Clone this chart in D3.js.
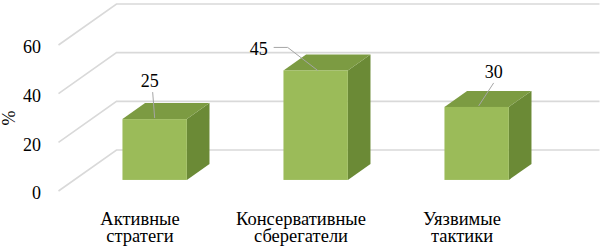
<!DOCTYPE html>
<html lang="ru">
<head>
<meta charset="utf-8">
<title>Стратегии</title>
<script src="https://d3js.org/d3.v7.min.js"></script>
<style>
  body { margin: 0; background: #fff; }
</style>
</head>
<body>
<script>
// Data
const categories = [["Активные", "стратеги"], ["Консервативные", "сберегатели"], ["Уязвимые", "тактики"]];
const values = [25, 45, 30];
const yTicks = [0, 20, 40, 60];

// Layout
const W = 603, H = 248;
const x0 = 58.5, x1 = 541.5;     // front floor edge
const depthX = 58, depthY = -41; // projection of full depth
const zFront = 0.27, zBack = 0.66;
const fontSize = 18;
const catSize = 18.5;
const serif = "'Liberation Serif', 'Times New Roman', 'DejaVu Serif', serif";

const colFront = "#9bbb59", colTop = "#7c9b42", colSide = "#6b8a36";
const gridCol = "#d9d9d9", leaderCol = "#a6a6a6";

// label offsets from bar anchor (dragged labels)
const labelShift = [[-5, -38], [-57, -22], [17, -35]];

const svg = d3.select("body").append("svg")
  .attr("width", W).attr("height", H)
  .style("font-family", serif);

const x = d3.scaleBand().domain(d3.range(categories.length)).range([x0, x1]).paddingInner(0).paddingOuter(0);
const y = d3.scaleLinear().domain([0, 60]).range([191, 45]);

// project (px, value, z) -> screen
const P = (px, v, z) => [px + depthX * z, y(v) + depthY * z];
const pts = arr => arr.map(p => p.join(",")).join(" ");

// gridlines: diagonal on left wall + horizontal on back wall
yTicks.forEach(t => {
  svg.append("polyline")
    .attr("points", pts([P(x0, t, 0), P(x0, t, 1), P(x1, t, 1)]))
    .attr("fill", "none")
    .attr("stroke", gridCol)
    .attr("stroke-width", 1.6);
});

// y tick labels
svg.append("g").selectAll("text")
  .data(yTicks).enter().append("text")
  .attr("x", 41)
  .attr("y", d => y(d) + 2)
  .attr("dy", "0.35em")
  .attr("text-anchor", "end")
  .attr("font-family", serif)
  .attr("font-size", fontSize)
  .text(d => d);

// axis title
svg.append("text")
  .attr("transform", "translate(15,118) rotate(-90)")
  .attr("text-anchor", "middle")
  .attr("font-family", serif)
  .attr("font-size", fontSize)
  .text("%");

// bars
const bw = x.bandwidth() * 0.4;
values.forEach((v, i) => {
  const cx = x(i) + x.bandwidth() / 2;
  const l = cx - bw / 2, r = cx + bw / 2;
  const g = svg.append("g");
  // side face
  g.append("polygon")
    .attr("points", pts([P(r, 0, zFront), P(r, 0, zBack), P(r, v, zBack), P(r, v, zFront)]))
    .attr("fill", colSide);
  // top face
  g.append("polygon")
    .attr("points", pts([P(l, v, zFront), P(r, v, zFront), P(r, v, zBack), P(l, v, zBack)]))
    .attr("fill", colTop);
  // front face
  const f0 = P(l, 0, zFront), f1 = P(r, v, zFront);
  g.append("rect")
    .attr("x", f0[0]).attr("y", f1[1])
    .attr("width", f1[0] - f0[0]).attr("height", f0[1] - f1[1])
    .attr("fill", colFront);

  // data label with leader line
  const anchor = P(cx, v, zFront);
  const lx = anchor[0] + labelShift[i][0], ly = anchor[1] + labelShift[i][1];
  let leader;
  if (i === 1) {
    leader = [[lx + 15, ly - 1], [lx + 29, ly - 1], [anchor[0] + 2, anchor[1]]];
  } else {
    leader = [[lx + (i === 0 ? 3 : 0), ly + 11], [anchor[0] + (i === 0 ? 0 : 2), anchor[1] - 1]];
  }
  svg.append("polyline")
    .attr("points", pts(leader))
    .attr("fill", "none")
    .attr("stroke", leaderCol)
    .attr("stroke-width", 1);
  svg.append("text")
    .attr("x", lx).attr("y", ly)
    .attr("dy", "0.35em")
    .attr("text-anchor", "middle")
    .attr("font-family", serif)
    .attr("font-size", fontSize)
    .text(v);
});

// category labels
categories.forEach((lines, i) => {
  const cx = x(i) + x.bandwidth() / 2 + 1;
  const t = svg.append("text")
    .attr("text-anchor", "middle")
    .attr("font-family", serif)
    .attr("font-size", catSize);
  lines.forEach((s, k) => {
    t.append("tspan")
      .attr("x", cx)
      .attr("y", 225 + k * 17)
      .text(s);
  });
});
</script>
</body>
</html>
